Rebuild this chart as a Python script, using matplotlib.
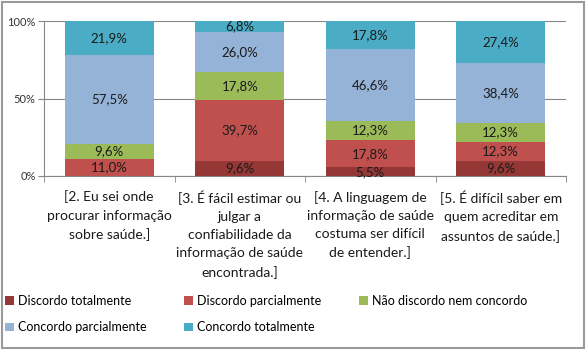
import matplotlib.pyplot as plt
from matplotlib.patches import Rectangle
import numpy as np

plt.rcParams['font.family'] = ['Lato', 'DejaVu Sans']

categories = [
    '[2. Eu sei onde\nprocurar informação\nsobre saúde.]',
    '[3. É fácil estimar ou\njulgar a\nconfiabilidade da\ninformação de saúde\nencontrada.]',
    '[4. A linguagem de\ninformação de saúde\ncostuma ser difícil\nde entender.]',
    '[5. É difícil saber em\nquem acreditar em\nassuntos de saúde.]',
]
series_names = ['Discordo totalmente', 'Discordo parcialmente', 'Não discordo nem concordo',
                'Concordo parcialmente', 'Concordo totalmente']
discordo_total = [0.0, 9.6, 5.5, 9.6]
discordo_parcial = [11.0, 39.7, 17.8, 12.3]
neutro = [9.6, 17.8, 12.3, 12.3]
concordo_parcial = [57.5, 26.0, 46.6, 38.4]
concordo_total = [21.9, 6.8, 17.8, 27.4]

COLORS = ['#953735', '#C0504D', '#9BBB59', '#95B3D7', '#4BACC6']

series = [discordo_total, discordo_parcial, neutro, concordo_parcial, concordo_total]

fig = plt.figure(figsize=(5.88, 3.5), dpi=100)
ax = fig.add_axes([44 / 588, 1 - 176 / 350, (566 - 44) / 588, (176 - 21) / 350])

x = np.arange(len(categories))
bottom = np.zeros(len(categories))
handles = []
for name, vals, color in zip(series_names, series, COLORS):
    vals = np.array(vals)
    h = ax.bar(x, vals, 0.68, bottom=bottom, color=color, label=name, zorder=2)
    handles.append(h)
    for xi, b, v in zip(x, bottom, vals):
        if v > 0:
            ax.text(xi, b + v / 2, f'{v:.1f}%'.replace('.', ','), ha='center', va='center',
                    fontsize=9.5, color='#1a1a1a', zorder=3)
    bottom += vals

ax.set_xlim(-0.5, 3.5)
ax.set_ylim(0, 100)
ax.set_yticks([0, 50, 100])
ax.set_yticklabels(['0%', '50%', '100%'], fontsize=8, color='#333333')
ax.yaxis.grid(True, color='#868686', linewidth=0.8, zorder=0)
ax.set_xticks(x)
ax.set_xticklabels(categories, fontsize=10, linespacing=1.6, color='#1a1a1a')
ax.set_xticks(np.arange(-0.5, 4, 1), minor=True)
ax.tick_params(axis='x', which='major', length=0, pad=10.5)
ax.tick_params(axis='x', which='minor', length=4, color='#868686')
ax.tick_params(axis='y', length=4, color='#868686', pad=2)
for s in ['top', 'right']:
    ax.spines[s].set_visible(False)
for s in ['left', 'bottom']:
    ax.spines[s].set_color('#868686')

# matplotlib fills legend columns first, so reorder to get Excel's row order
order = [0, 3, 1, 4, 2]
fig.legend([handles[i] for i in order], [series_names[i] for i in order],
           loc='upper left', bbox_to_anchor=(0.0, 1 - 290 / 350), ncol=3, frameon=False,
           fontsize=9, handlelength=0.7, handleheight=0.7, handletextpad=0.35,
           columnspacing=3.0, labelspacing=1.15, borderaxespad=0)

fig.patches.append(Rectangle((0.004, 0.006), 0.99, 0.988, transform=fig.transFigure,
                             fill=False, edgecolor='#9a9a9a', linewidth=1.5))

fig.savefig('out.png', dpi=100)
